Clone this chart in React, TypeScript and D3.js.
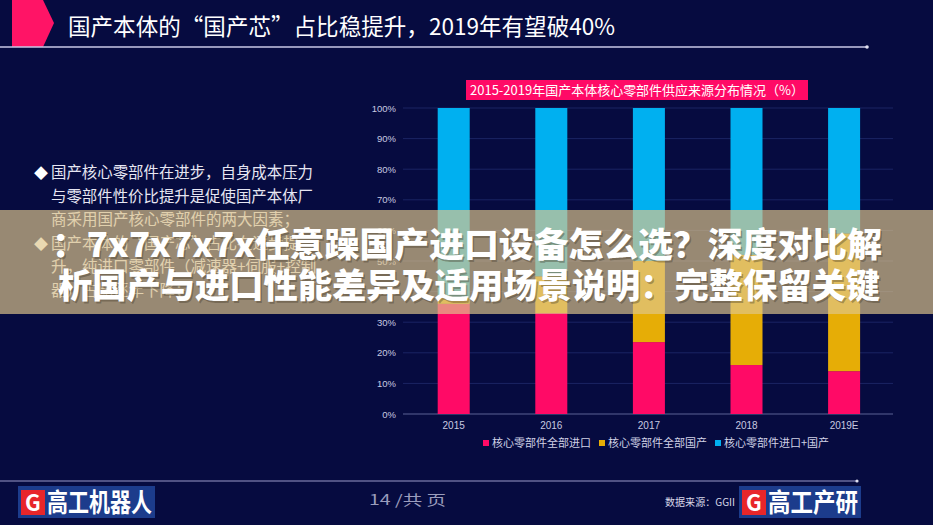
import React, { useEffect } from "react";
import * as d3 from "d3";

const years = ["2015", "2016", "2017", "2018", "2019E"];
const importAll = [36, 33, 23.5, 16, 14];
const domesticAll = [2, 12, 26.5, 36, 45];
const mixed = [62, 55, 50, 48, 41];
const yTicks = [0, 10, 20, 30, 40, 50, 60, 70, 80, 90, 100];
const seriesNames = ["核心零部件全部进口", "核心零部件全部国产", "核心零部件进口+国产"];
const seriesColors = ["#ff0a66", "#e6ad06", "#00b0f0"];
const bulletLines = [
  "国产核心零部件在进步，自身成本压力",
  "与零部件性价比提升是促使国产本体厂",
  "商采用国产核心零部件的两大因素；",
  "国产本体的“国产芯”占比在逐步提",
  "升，纯进口零部件（减速器+伺服+控制",
  "器）占比逐年下降；",
];
const bulletMarks = [true, false, false, true, false, false];

const CJK = "'Noto Sans CJK SC', 'Noto Sans', sans-serif";

export default function App() {
  useEffect(() => {
    document.body.style.margin = "0";
  }, []);

  const W = 933;
  const H = 525;
  const x = d3.scaleBand<string>().domain(years).range([404.9, 892.9]).paddingInner(0.672).paddingOuter(0.336);
  const y = d3.scaleLinear().domain([0, 100]).range([414, 108]);

  const rows = years.map((yr, i) => ({ yr, vals: [importAll[i], domesticAll[i], mixed[i]] }));
  const stack = d3
    .stack<any>()
    .keys(["0", "1", "2"])
    .value((d: any, k: string) => d.vals[+k]);
  const stacked = stack(rows);

  const legendX = [483, 599, 715];

  return (
    <div style={{ position: "absolute", left: 0, top: 0 }}>
      <svg width={W} height={H} style={{ display: "block" }}>
        <rect x={0} y={0} width={W} height={H} fill="#060b40" />
        {/* header */}
        <polygon points="12,0 43,0 54,23 43,47 12,47" fill="#ff1466" />
        <line x1={0} x2={867} y1={47} y2={47} stroke="#c9c9e6" strokeWidth={1.5} />
        <circle cx={867} cy={47} r={1.8} fill="#e0e0f0" />
        <text
          x={68}
          y={35}
          fontFamily={CJK}
          fontSize={23}
          fill="#ffffff"
          textLength={547}
          lengthAdjust="spacingAndGlyphs"
        >
          国产本体的“国产芯”占比稳提升，2019年有望破40%
        </text>

        {/* bullets */}
        {bulletLines.map((t, i) => (
          <g key={i}>
            {bulletMarks[i] && (
              <text x={34} y={178 + i * 23.5} fontFamily={CJK} fontSize={14} fill="#ffffff">
                ◆
              </text>
            )}
            <text
              x={51}
              y={178 + i * 23.5}
              fontFamily={CJK}
              fontSize={15.5}
              fill="#e6e6f2"
              textLength={t.length === 17 ? 262 : undefined}
              lengthAdjust="spacingAndGlyphs"
            >
              {t}
            </text>
          </g>
        ))}

        {/* chart title */}
        <rect x={466} y={80} width={342} height={20} fill="#ff0a66" />
        <text
          x={637}
          y={95}
          textAnchor="middle"
          fontFamily={CJK}
          fontSize={13}
          fill="#ffffff"
          textLength={334}
          lengthAdjust="spacingAndGlyphs"
        >
          2015-2019年国产本体核心零部件供应来源分布情况（%）
        </text>

        {/* grid + y axis */}
        {yTicks.map((t) => (
          <g key={t}>
            <line
              x1={403}
              x2={893}
              y1={y(t)}
              y2={y(t)}
              stroke={t === 0 ? "#5a6294" : "#1b2463"}
              strokeWidth={1}
            />
            <text
              x={396}
              y={y(t) + 3.5}
              textAnchor="end"
              fontFamily="'Liberation Sans', Arial, sans-serif"
              fontSize={9.5}
              fill="#c8cae0"
            >
              {t}%
            </text>
          </g>
        ))}

        {/* bars */}
        {stacked.map((s, si) => (
          <g key={si} fill={seriesColors[si]}>
            {s.map((d: any, i: number) => (
              <rect
                key={i}
                x={x(years[i])}
                width={x.bandwidth()}
                y={y(d[1])}
                height={y(d[0]) - y(d[1])}
              />
            ))}
          </g>
        ))}

        {/* x labels */}
        {years.map((yr) => (
          <text
            key={yr}
            x={(x(yr) as number) + x.bandwidth() / 2}
            y={429}
            textAnchor="middle"
            fontFamily="'Liberation Sans', Arial, sans-serif"
            fontSize={10}
            fill="#c8cae0"
          >
            {yr}
          </text>
        ))}

        {/* legend */}
        {seriesNames.map((n, i) => (
          <g key={n}>
            <rect x={legendX[i]} y={440} width={6} height={6} fill={seriesColors[i]} />
            <text x={legendX[i] + 9} y={447} fontFamily={CJK} fontSize={11} fill="#d0d2e6">
              {n}
            </text>
          </g>
        ))}

        {/* footer */}
        <line x1={0} x2={857} y1={481} y2={481} stroke="#9a9ac8" strokeWidth={1.2} />
        <circle cx={857} cy={481} r={1.6} fill="#e0e0f0" />
        <rect x={18} y={486} width={137} height={32} fill="#1c3c8c" />
        <rect x={21} y={490} width={24} height={25} fill="#e8262a" />
        <text x={33} y={511} textAnchor="middle" fontFamily={CJK} fontWeight={700} fontSize={22} fill="#ffffff">
          G
        </text>
        <text
          x={47}
          y={512}
          fontFamily={CJK}
          fontWeight={700}
          fontSize={26}
          fill="#ffffff"
          textLength={105}
          lengthAdjust="spacingAndGlyphs"
        >
          高工机器人
        </text>
        <text x={369} y={505} fontFamily={CJK} fontSize={14} fill="#9a9cbc" textLength={77} lengthAdjust="spacingAndGlyphs">
          14 /共  页
        </text>
        <text x={665} y={506} fontFamily={CJK} fontSize={10} fill="#d8d8e8" textLength={70} lengthAdjust="spacingAndGlyphs">
          数据来源：GGII
        </text>
        <rect x={739} y={486} width={122} height={32} fill="#1c3c8c" />
        <rect x={742} y={490} width={24} height={25} fill="#e8262a" />
        <text x={754} y={511} textAnchor="middle" fontFamily={CJK} fontWeight={700} fontSize={22} fill="#ffffff">
          G
        </text>
        <text
          x={768}
          y={512}
          fontFamily={CJK}
          fontWeight={700}
          fontSize={26}
          fill="#ffffff"
          textLength={90}
          lengthAdjust="spacingAndGlyphs"
        >
          高工产研
        </text>

        {/* overlay banner */}
        <rect x={0} y={210} width={W} height={104} fill="rgb(222,197,140)" fillOpacity={0.68} />
        {[
          { t: "：7x7x7x7x任意躁国产进口设备怎么选？深度对比解", x: 52, y: 257, len: 830 },
          { t: "析国产与进口性能差异及适用场景说明：完整保留关键", x: 58, y: 298, len: 822 },
        ].map((l, i) => (
          <g key={i}>
            <text
              x={l.x + 1.5}
              y={l.y + 1.5}
              fontFamily={CJK}
              fontWeight={900}
              fontSize={34}
              fill="#3a3020"
              fillOpacity={0.35}
              textLength={l.len}
              lengthAdjust="spacingAndGlyphs"
            >
              {l.t}
            </text>
            <text
              x={l.x}
              y={l.y}
              fontFamily={CJK}
              fontWeight={900}
              fontSize={34}
              fill="#ffffff"
              textLength={l.len}
              lengthAdjust="spacingAndGlyphs"
            >
              {l.t}
            </text>
          </g>
        ))}
      </svg>
    </div>
  );
}
